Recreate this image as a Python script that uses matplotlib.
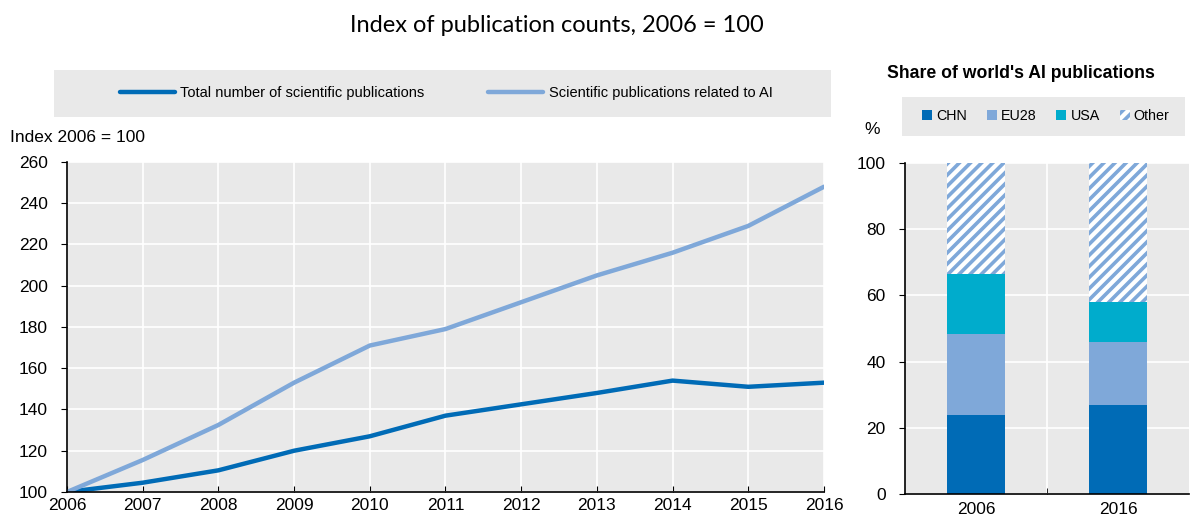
import numpy as np
import matplotlib.pyplot as plt
from matplotlib.patches import Rectangle, Patch
from matplotlib.lines import Line2D

# ---------------------------------------------------------------------------
# Data
# ---------------------------------------------------------------------------
years = [2006, 2007, 2008, 2009, 2010, 2011, 2012, 2013, 2014, 2015, 2016]
total_pubs = [100, 104.5, 110.5, 120, 127, 137, 142.5, 148, 154, 151, 153]
ai_pubs = [100, 115.5, 132.5, 153, 171, 179, 192, 205, 216, 229, 248]

share_years = ['2006', '2016']
chn = [24, 27]
eu28 = [24.5, 19]
usa = [18, 12]
other = [33.5, 42]

DARK = '#006BB6'
LIGHT = '#7FA8D9'
TEAL = '#00ACCC'
BG = '#E9E9E9'
TICK_FS = 12.5

plt.rcParams['font.family'] = ['Liberation Sans', 'DejaVu Sans']
plt.rcParams['hatch.linewidth'] = 2.6
plt.rcParams['hatch.color'] = LIGHT

fig = plt.figure(figsize=(11.9, 5.22), dpi=100)

fig.text(0.468, 0.952, 'Index of publication counts, 2006 = 100', ha='center', va='center',
         fontsize=17, family=['Lato', 'DejaVu Sans'])

# ---------------------------------------------------------------------------
# Left panel: index lines
# ---------------------------------------------------------------------------
ax1 = fig.add_axes([0.0563, 0.0575, 0.6361, 0.6322])
ax1.set_facecolor(BG)
ax1.plot(years, total_pubs, color=DARK, linewidth=3.2, solid_capstyle='round')
ax1.plot(years, ai_pubs, color=LIGHT, linewidth=3.2, solid_capstyle='round')
ax1.set_xlim(2006, 2016)
ax1.set_ylim(100, 260)
ax1.set_xticks(years)
ax1.set_yticks(np.arange(100, 261, 20))
ax1.grid(True, color='white', linewidth=1.2)
ax1.set_axisbelow(True)
for s in ['top', 'right']:
    ax1.spines[s].set_visible(False)
for s in ['left', 'bottom']:
    ax1.spines[s].set_linewidth(1.2)
ax1.tick_params(axis='y', direction='out', length=4, labelsize=TICK_FS, pad=10)
ax1.tick_params(axis='x', direction='in', length=4, labelsize=TICK_FS, pad=4)
fig.text(0.008, 0.737, 'Index 2006 = 100', ha='left', va='center', fontsize=12.5)

fig.patches.append(Rectangle((0.0454, 0.7759), 0.653, 0.090, transform=fig.transFigure,
                             facecolor=BG, edgecolor='none'))
handles1 = [Line2D([], [], color=DARK, linewidth=3.2, solid_capstyle='round'),
            Line2D([], [], color=LIGHT, linewidth=3.2, solid_capstyle='round')]
fig.legend(handles1, ['Total number of scientific publications',
                      'Scientific publications related to AI'],
           loc='center left', bbox_to_anchor=(0.1008, 0.8209), ncol=2, frameon=False,
           fontsize=10.5, handlelength=3.77, handletextpad=0.35, columnspacing=4.4,
           borderpad=0, borderaxespad=0)

# ---------------------------------------------------------------------------
# Right panel: shares
# ---------------------------------------------------------------------------
ax2 = fig.add_axes([0.7605, 0.0536, 0.2387, 0.634])
ax2.set_facecolor(BG)
x = np.arange(len(share_years))
w = 0.41
b1 = np.array(chn)
b2 = b1 + np.array(eu28)
b3 = b2 + np.array(usa)
ax2.bar(x, chn, w, color=DARK)
ax2.bar(x, eu28, w, bottom=b1, color=LIGHT)
ax2.bar(x, usa, w, bottom=b2, color=TEAL)
ax2.bar(x, other, w, bottom=b3, color='white', hatch='///', edgecolor=LIGHT, linewidth=0)
ax2.set_xlim(-0.5, 1.5)
ax2.set_ylim(0, 100)
ax2.set_yticks(np.arange(0, 101, 20))
ax2.set_xticks(x)
ax2.set_xticklabels(share_years)
ax2.set_xticks([0.5], minor=True)
ax2.grid(True, axis='y', color='white', linewidth=1.2)
ax2.grid(True, axis='x', which='minor', color='white', linewidth=1.2)
ax2.set_axisbelow(True)
for s in ['top', 'right']:
    ax2.spines[s].set_visible(False)
for s in ['left', 'bottom']:
    ax2.spines[s].set_linewidth(1.2)
ax2.tick_params(axis='y', direction='out', length=4, labelsize=TICK_FS, pad=10)
ax2.tick_params(axis='x', which='major', length=0, labelsize=TICK_FS, pad=6)
ax2.tick_params(axis='x', which='minor', direction='in', length=4)
fig.text(0.733, 0.751, '%', ha='center', va='center', fontsize=12.5)

fig.text(0.858, 0.860, "Share of world's AI publications", ha='center', va='center',
         fontsize=12.7, fontweight='bold')

fig.patches.append(Rectangle((0.758, 0.7395), 0.2378, 0.0747, transform=fig.transFigure,
                             facecolor=BG, edgecolor='none'))
handles2 = [Patch(facecolor=DARK), Patch(facecolor=LIGHT), Patch(facecolor=TEAL),
            Patch(facecolor='white', hatch='///', edgecolor=LIGHT, linewidth=0)]
fig.legend(handles2, ['CHN', 'EU28', 'USA', 'Other'],
           loc='center left', bbox_to_anchor=(0.7748, 0.7775), ncol=4, frameon=False,
           fontsize=10.3, handlelength=0.7, handleheight=0.7, handletextpad=0.28,
           columnspacing=1.4, borderpad=0, borderaxespad=0)

fig.savefig('out.png', dpi=100)
